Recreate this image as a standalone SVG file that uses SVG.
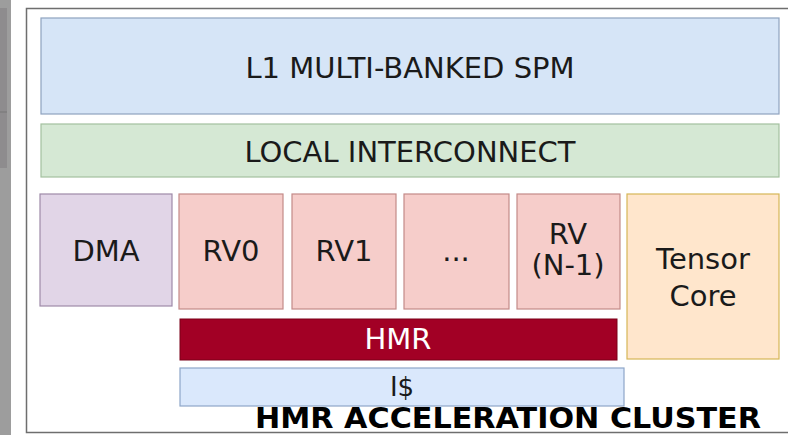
<svg xmlns="http://www.w3.org/2000/svg" width="788" height="435" viewBox="0 0 788 435">
<style>
text{font-family:"DejaVu Sans","Verdana",sans-serif;font-size:29px;fill:#1a1a1a;text-anchor:middle}
.b{stroke-width:1.2}
.rv{fill:#f6cdca;stroke:#c48a88}
.title{font-weight:bold;font-size:29px;fill:#000}
</style>
<rect x="0" y="0" width="11" height="435" fill="#9d9d9d"/>
<rect x="0" y="8" width="7" height="160" fill="#8e8c8e"/>
<line x1="0" y1="112" x2="7" y2="112" stroke="#777" stroke-width="1"/>
<rect x="26.5" y="8.5" width="770" height="424" fill="#ffffff" stroke="#6e6e6e" stroke-width="1.5"/>
<g id="l1">
<rect class="b" x="41" y="18" width="738" height="96" fill="#d6e5f7" stroke="#8ea2bf"/>
<text x="410" y="78">L1 MULTI-BANKED SPM</text>
</g>
<g id="interconnect">
<rect class="b" x="41" y="124" width="738" height="53" fill="#d5e8d4" stroke="#a3c09f"/>
<text x="410" y="162">LOCAL INTERCONNECT</text>
</g>
<g id="dma">
<rect class="b" x="40" y="194" width="132" height="112" fill="#e1d5e7" stroke="#9e8aa8"/>
<text x="106" y="261">DMA</text>
</g>
<g id="rv0">
<rect class="b rv" x="179" y="194" width="104" height="115"/>
<text x="231" y="261">RV0</text>
</g>
<g id="rv1">
<rect class="b rv" x="292" y="194" width="104" height="115"/>
<text x="344" y="261">RV1</text>
</g>
<g id="rvdots">
<rect class="b rv" x="404" y="194" width="105" height="115"/>
<text x="456" y="261">...</text>
</g>
<g id="rvn1">
<rect class="b rv" x="517" y="194" width="103" height="115"/>
<text x="568" y="244">RV</text>
<text x="568" y="275">(N-1)</text>
</g>
<g id="tensor">
<rect class="b" x="627" y="194" width="152" height="165" fill="#ffe6cc" stroke="#d6b656"/>
<text x="703" y="269">Tensor</text>
<text x="703" y="306">Core</text>
</g>
<g id="hmr">
<rect x="180" y="319" width="437" height="41" fill="#a20025" stroke="#7a0019" stroke-width="1"/>
<text x="398" y="349" style="fill:#ffffff">HMR</text>
</g>
<g id="icache">
<rect class="b" x="180" y="368" width="444" height="38" fill="#dae8fc" stroke="#8ea6c8"/>
<text x="402" y="396" style="font-size:26px">I$</text>
</g>
<g id="connectors"></g>
<text class="title" x="508" y="428" textLength="506" lengthAdjust="spacingAndGlyphs">HMR ACCELERATION CLUSTER</text>
</svg>
